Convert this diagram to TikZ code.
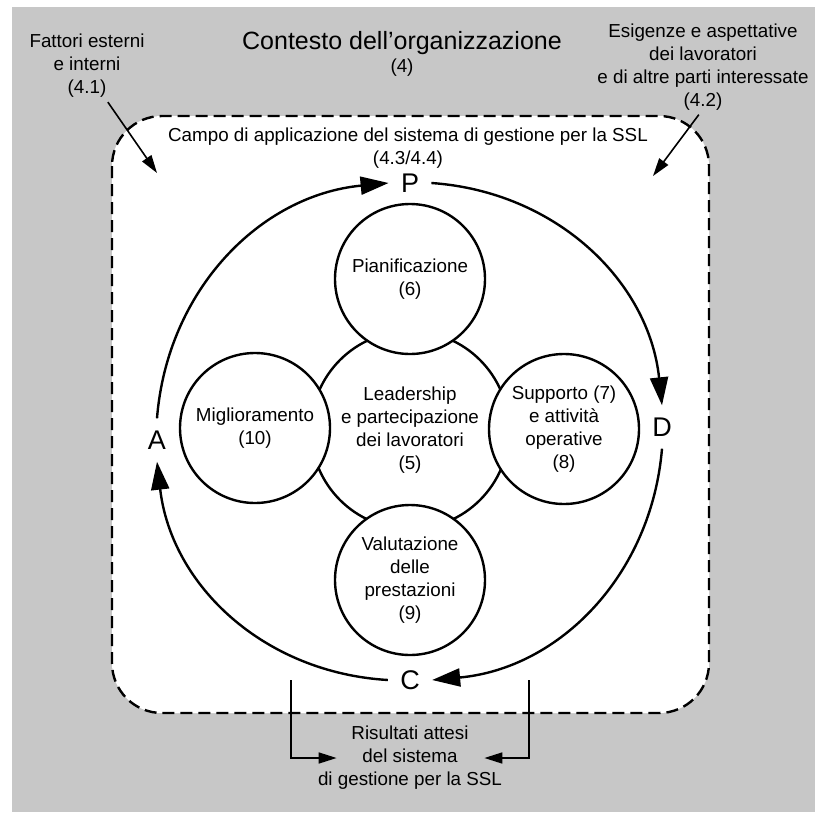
\documentclass[tikz,border=0pt]{standalone}
\usepackage{fontspec}
\setmainfont{Liberation Sans}
\usepackage{tikz}
\usetikzlibrary{arrows.meta}

\begin{document}
\begin{tikzpicture}[x=0.5pt,y=-0.5pt,
				label/.style={align=center, font=\fontsize{9.4}{11.5}\selectfont, inner sep=2pt},
				heading/.style={align=center, font=\fontsize{12.5}{11.5}\selectfont, inner sep=2pt},
				phase/.style={circle, draw, line width=1.2pt, fill=white, minimum size=75pt, inner sep=0pt, align=center, font=\fontsize{9.4}{11.5}\selectfont},
				core/.style={circle, draw, line width=1.2pt, fill=white, minimum size=99pt, inner sep=0pt, align=center, font=\fontsize{9.4}{11.5}\selectfont},
				letter/.style={font=\fontsize{13.5}{13.5}\selectfont, inner sep=6pt},
				cycle/.style={-{Triangle[length=14pt,width=9pt]}, line width=1.2pt},
				input/.style={-{Triangle[length=9pt,width=5.5pt]}, line width=0.8pt}]
	\useasboundingbox (0,0) rectangle (815,819);
	\fill[black!22] (12,7) rectangle (815,812);
	\draw[dash pattern=on 6pt off 3pt, line width=1.2pt, fill=white, rounded corners=25pt] (112,116) rectangle (709,713);
	% context and inputs
	\node[heading] (ctx) at (402,54) {Contesto dell'organizzazione\\{\fontsize{9.4}{11.5}\selectfont(4)}};
	\node[label] (ext) at (87,66) {Fattori esterni\\e interni\\(4.1)};
	\node[label] (needs) at (703,67) {Esigenze e aspettative\\dei lavoratori\\e di altre parti interessate\\(4.2)};
	\node[label] (scope) at (408,148) {Campo di applicazione del sistema di gestione per la SSL\\(4.3/4.4)};
	\coordinate (extin) at (157,173);
	\coordinate (needsin) at (653,176);
	\draw[input] (ext.-60) -- (extin);
	\draw[input] (needs.-95) -- (needsin);
	% clauses
	\node[core] (lead) at (410,430) {Leadership\\e partecipazione\\dei lavoratori\\(5)};
	\node[phase] (plan) at (410,279) {Pianificazione\\(6)};
	\node[phase] (supp) at (564,429) {Supporto (7)\\e attività\\operative\\(8)};
	\node[phase] (eval) at (410,580) {Valutazione\\delle\\prestazioni\\(9)};
	\node[phase] (impr) at (255,428) {Miglioramento\\(10)};
	% PDCA
	\node[letter] (P) at (410,183) {P};
	\node[letter] (D) at (662,427) {D};
	\node[letter] (C) at (410,680) {C};
	\node[letter] (A) at (157,440) {A};
	\draw[cycle] (P.east) to[bend left=40] (D.north);
	\draw[cycle] (D.south) to[bend left=40] (C.east);
	\draw[cycle] (C.west) to[bend left=40] (A.south);
	\draw[cycle] (A.north) to[bend left=40] (P.west);
	% outcomes
	\node[label] (res) at (410,758) {Risultati attesi\\del sistema\\di gestione per la SSL};
	\coordinate (resL) at (291,680);
	\coordinate (resR) at (529,680);
	\draw[input] (resL) |- ([xshift=11.5pt]res.west);
	\draw[input] (resR) |- ([xshift=-11pt]res.east);
\end{tikzpicture}
\end{document}
